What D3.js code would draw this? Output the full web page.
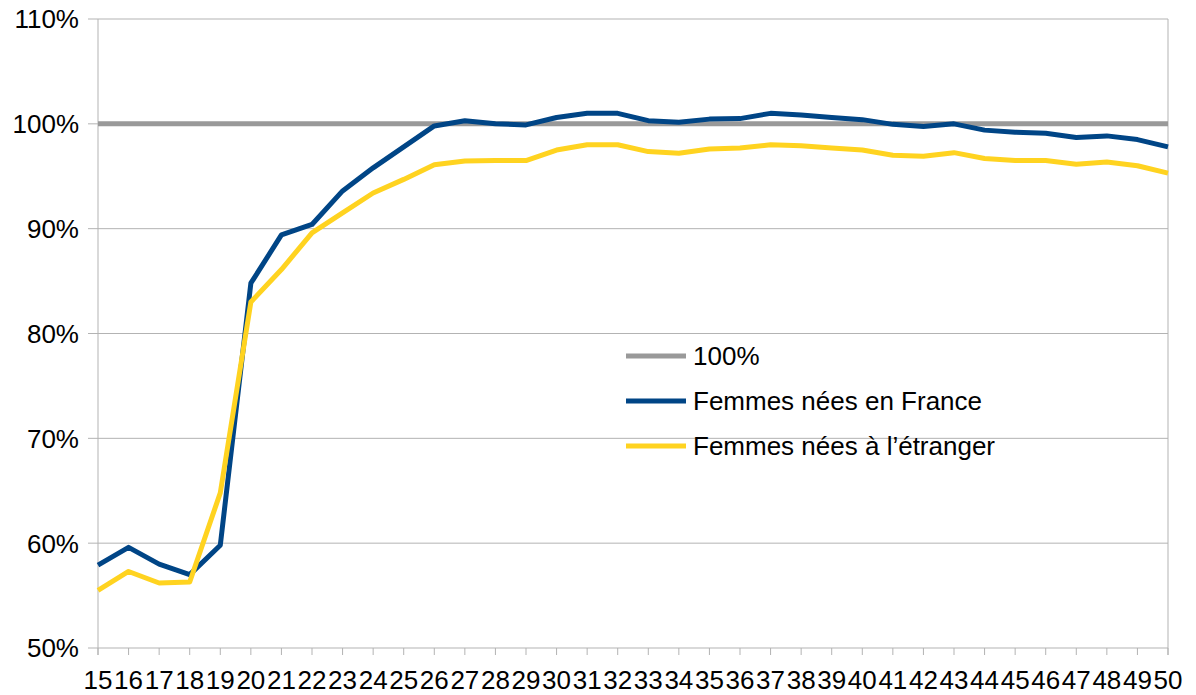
<html>
<head>
<script src="https://d3js.org/d3.v7.min.js" charset="utf-8"></script>
<style>
body { margin: 0; background: white; font-family: "Liberation Sans", Arial, sans-serif; }
svg text { fill: #000; }
</style>
</head>
<body>
<div id="canvas"></div>
<script>
// ages 15..50
var ages = [15,16,17,18,19,20,21,22,23,24,25,26,27,28,29,30,31,32,33,34,35,36,37,38,39,40,41,42,43,44,45,46,47,48,49,50];

var ref100 = [100,100,100,100,100,100,100,100,100,100,100,100,100,100,100,100,100,100,
              100,100,100,100,100,100,100,100,100,100,100,100,100,100,100,100,100,100];

var france = [57.9,59.6,58.0,57.0,59.8,84.8,89.4,90.4,93.6,95.8,97.8,99.8,100.3,100.0,99.9,100.6,101.0,101.0,
              100.3,100.15,100.45,100.5,101.0,100.85,100.6,100.4,99.95,99.75,100.0,99.4,99.2,99.1,98.7,98.85,98.5,97.8];

var etranger = [55.5,57.3,56.2,56.3,64.8,83.0,86.1,89.6,91.5,93.4,94.7,96.1,96.45,96.5,96.5,97.5,98.0,98.0,
                97.35,97.2,97.6,97.7,98.0,97.9,97.7,97.5,97.0,96.9,97.25,96.7,96.5,96.5,96.15,96.35,96.0,95.3];

var yTicks = [50,60,70,80,90,100,110];

var series = [
  {name: "100%", values: ref100, color: "#999999"},
  {name: "Femmes nées en France", values: france, color: "#004586"},
  {name: "Femmes nées à l\u2019étranger", values: etranger, color: "#ffd320"}
];

var W = 1196, H = 695;
var svg = d3.select("#canvas").append("svg").attr("width", W).attr("height", H);

var x = d3.scalePoint().domain(ages).range([98, 1168]);
var y = d3.scaleLinear().domain([50, 110]).range([648, 19]);

// horizontal gridlines + y ticks
svg.append("g").selectAll("line").data(yTicks).enter().append("line")
  .attr("x1", 88).attr("x2", 1168)
  .attr("y1", function(d){ return y(d); }).attr("y2", function(d){ return y(d); })
  .attr("stroke", "#b3b3b3").attr("stroke-width", 1);

svg.append("g").selectAll("text").data(yTicks).enter().append("text")
  .attr("x", 79).attr("y", function(d){ return y(d); })
  .attr("dy", "0.36em")
  .attr("text-anchor", "end")
  .style("font-size", "26px")
  .text(function(d){ return d + "%"; });

// left and right borders
svg.append("line").attr("x1", 98).attr("x2", 98).attr("y1", 19).attr("y2", 655)
  .attr("stroke", "#b3b3b3");
svg.append("line").attr("x1", 1168).attr("x2", 1168).attr("y1", 19).attr("y2", 655)
  .attr("stroke", "#b3b3b3");

// x ticks
svg.append("g").selectAll("line").data(ages).enter().append("line")
  .attr("x1", function(d){ return x(d); }).attr("x2", function(d){ return x(d); })
  .attr("y1", 648).attr("y2", 655)
  .attr("stroke", "#b3b3b3");

svg.append("g").selectAll("text").data(ages).enter().append("text")
  .attr("x", function(d){ return x(d); }).attr("y", 689)
  .attr("text-anchor", "middle")
  .style("font-size", "26px")
  .text(function(d){ return d; });

// lines
var line = d3.line()
  .x(function(d, i){ return x(ages[i]); })
  .y(function(d){ return y(d); });

svg.append("g").selectAll("path").data(series).enter().append("path")
  .attr("d", function(s){ return line(s.values); })
  .attr("fill", "none")
  .attr("stroke", function(s){ return s.color; })
  .attr("stroke-width", 5)
  .attr("stroke-linejoin", "round");

// legend
var leg = svg.append("g").selectAll("g").data(series).enter().append("g")
  .attr("transform", function(s, i){ return "translate(626," + (356 + i*45) + ")"; });
leg.append("line").attr("x1", 0).attr("x2", 60).attr("y1", 0).attr("y2", 0)
  .attr("stroke", function(s){ return s.color; }).attr("stroke-width", 5);
leg.append("text").attr("x", 67).attr("y", 0).attr("dy", "0.36em")
  .style("font-size", "26px")
  .text(function(s){ return s.name; });
</script>
</body>
</html>
